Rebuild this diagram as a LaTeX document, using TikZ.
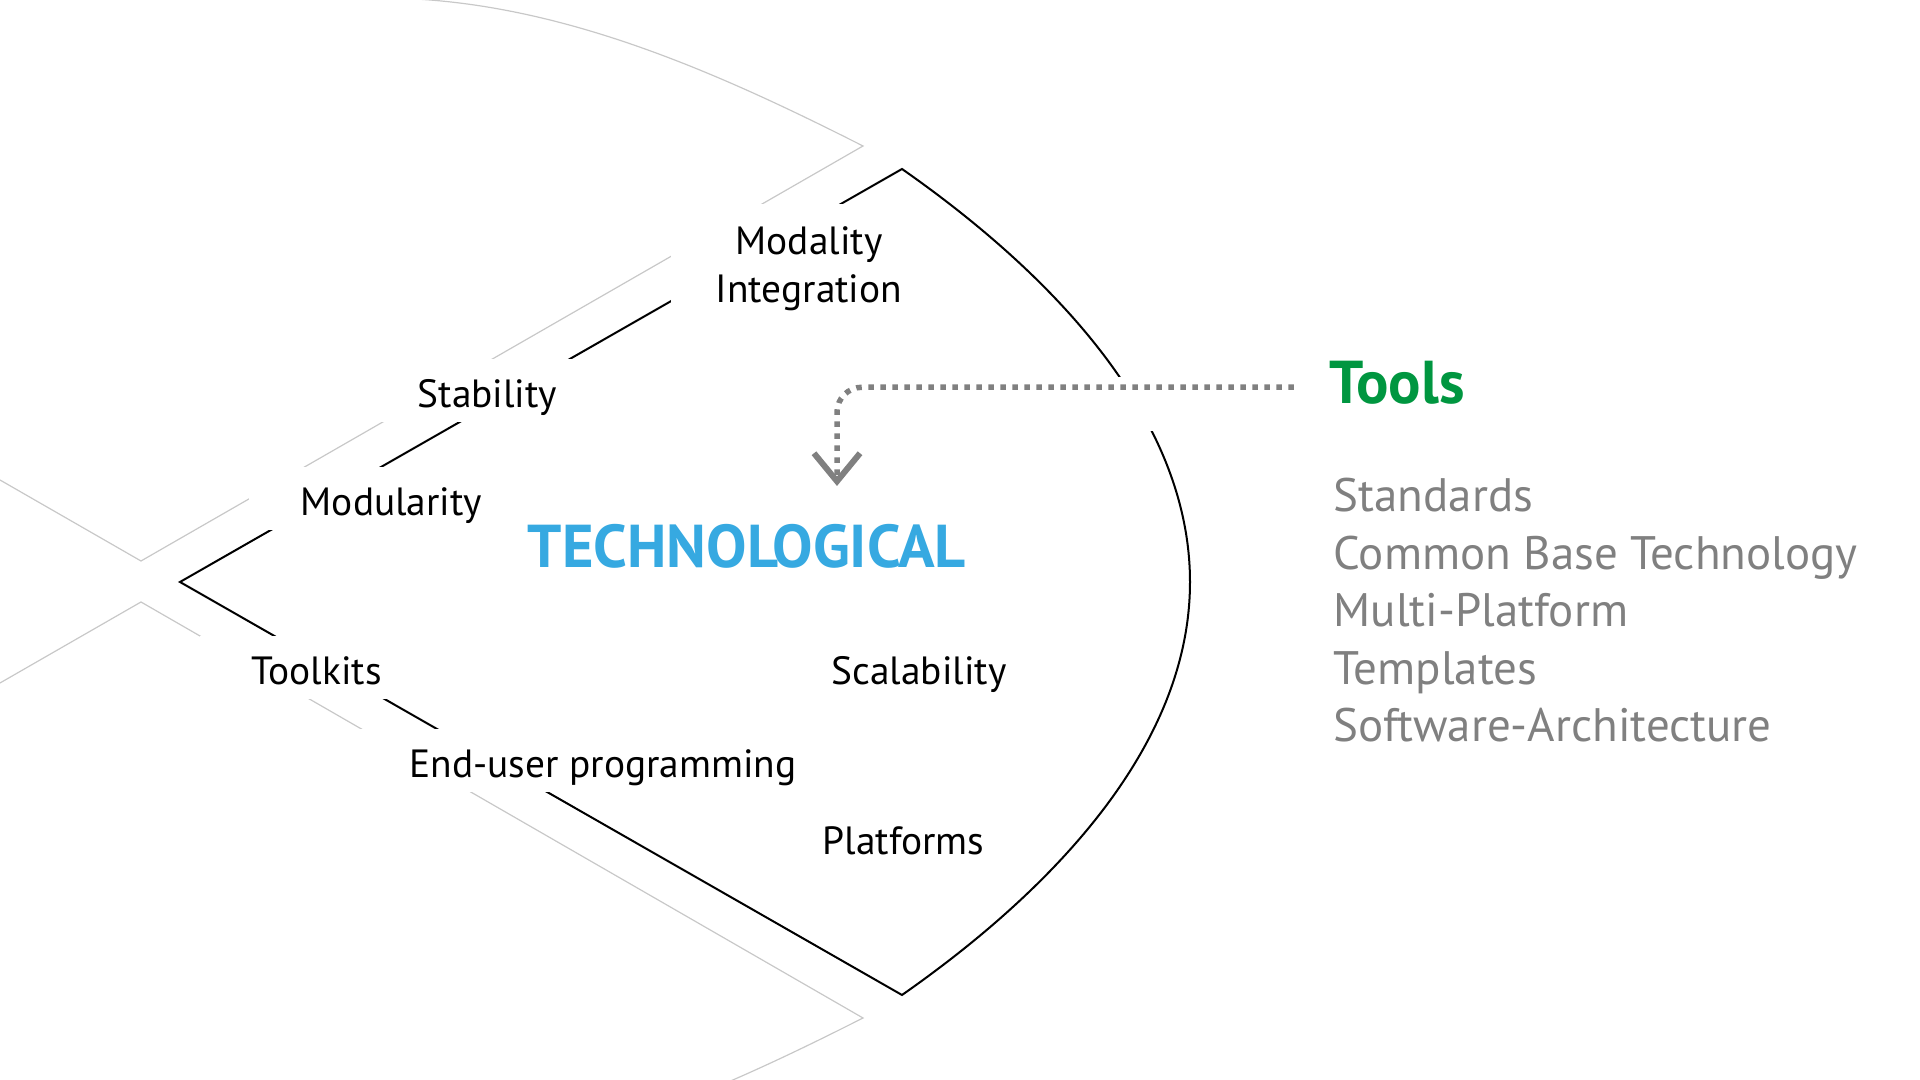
\documentclass[tikz,border=0pt]{standalone}
\usepackage{fontspec}
\setmainfont{PT Sans}
\usepackage{xcolor}
\usepackage{tikz}
\usetikzlibrary{arrows.meta, positioning, calc}
\definecolor{techblue}{RGB}{54,169,225}
\definecolor{toolgreen}{RGB}{0,150,64}
\definecolor{itemgray}{RGB}{128,128,128}
\definecolor{ghostgray}{RGB}{200,200,200}

\begin{document}
\begin{tikzpicture}[
    x=0.01cm, y=-0.01cm,
    outline/.style={draw=black, line width=0.02cm, line join=miter},
    ghost/.style={draw=ghostgray, line width=0.012cm},
    lbl/.style={fill=white, anchor=base west, inner xsep=0.52cm, inner ysep=0pt, text height=0.49cm, text depth=0.14cm, font=\fontsize{11.2pt}{13.5pt}\selectfont},
    plain/.style={anchor=base west, inner sep=0pt, font=\fontsize{11.2pt}{13.5pt}\selectfont},
    head/.style={anchor=base west, inner sep=0pt, font=\fontsize{17.2pt}{20pt}\selectfont\bfseries},
    item/.style={anchor=base west, inner sep=0pt, text=itemgray, font=\fontsize{13.35pt}{16pt}\selectfont},
    dotline/.style={draw=itemgray, line width=0.055cm, dash pattern=on 0.055cm off 0.065cm, rounded corners=0.25cm, -{Straight Barb[length=0.28cm, width=0.46cm, line width=0.06cm]}}
]
\useasboundingbox (0,0) rectangle (1920,1080);
\clip (0,0) rectangle (1920,1080);

% outer grey contour
\draw[ghost] (0,480) -- (141,561) -- (863,146) .. controls (711,69) and (550,-2) .. (380,-2);
\draw[ghost] (0,683) -- (141,602) -- (863,1018) .. controls (711,1095) and (550,1166) .. (380,1166);

% head
\coordinate (tip) at (180,582);
\coordinate (top) at (902,169);
\coordinate (bot) at (902,995);
\draw[outline] (top) -- (tip) -- (bot) .. controls (1025,909) and (1190,762) .. (1190,582)
    .. controls (1190,402) and (1025,255) .. (top) -- cycle;
\fill[white] (1100,377) rectangle (1185,431);

% labels on the contour
\node[lbl, anchor=base, inner xsep=0.45cm, text height=0.51cm, text depth=0.49cm] (modality) at (809,255)
    {\begin{tabular}[t]{@{}c@{}}Modality\\Integration\end{tabular}};
\node[lbl] (stability) at (365,408) {Stability};
\node[lbl] (modularity) at (248,516) {Modularity};
\node[lbl] (toolkits) at (199,685) {Toolkits};
\node[lbl] (enduser) at (357,778) {End-user programming};
\node[plain] (scalability) at (831,685) {Scalability};
\node[plain] (platforms) at (822,855) {Platforms};
\node[head, text=techblue] (tech) at (527,568) {TECHNOLOGICAL};

% tools
\node[head, text=toolgreen] (tools) at (1329,404) {Tools};
\foreach \txt [count=\i from 0] in {Standards, Common Base Technology, Multi-Platform, Templates, Software-Architecture}
    \node[item] (item\i) at (1333,512+57.5*\i) {\txt};

\coordinate (drop) at (837,486);
\draw[dotline] ([xshift=-0.35cm, yshift=-0.04cm]tools.west) -| (drop);
\end{tikzpicture}
\end{document}
